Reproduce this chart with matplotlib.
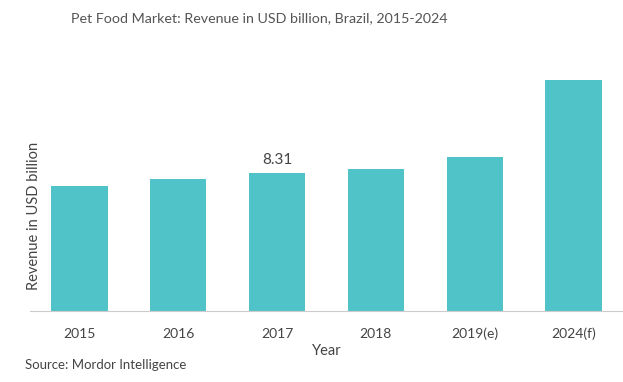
import matplotlib
matplotlib.use("Agg")
import matplotlib.pyplot as plt

years = ["2015", "2016", "2017", "2018", "2019(e)", "2024(f)"]
revenue = [7.53, 7.95, 8.31, 8.55, 9.27, 13.91]
labelled = "2017"  # only this bar carries a value label

plt.rcParams['font.family'] = ['Lato', 'DejaVu Sans']

fig = plt.figure(figsize=(6.23, 3.82), dpi=100)
ax = fig.add_axes([30 / 623, 71 / 382, 593 / 623, 246 / 382])

x = range(len(years))
ax.bar(x, revenue, width=0.57, color='#4fc3c8')
ax.set_xlim(-0.5, 5.5)
ax.set_ylim(0, 14.8)

for i, (yr, v) in enumerate(zip(years, revenue)):
    if yr == labelled:
        ax.text(i, v + 0.35, f"{v:.2f}", ha='center', va='bottom',
                fontsize=11, color='#444444')

ax.set_xticks(list(x))
ax.set_xticklabels(years, fontsize=10, color='#444444')
ax.tick_params(axis='x', length=0, pad=12)
ax.set_yticks([])
for side in ['top', 'right', 'left']:
    ax.spines[side].set_visible(False)
ax.spines['bottom'].set_color('#cccccc')

ax.set_xlabel("Year", fontsize=10.5, color='#444444', labelpad=3)
ax.set_ylabel("Revenue in USD billion", fontsize=10.5, color='#444444')
ax.yaxis.set_label_coords(0.018, 0.386)

fig.text(0.416, 0.952, "Pet Food Market: Revenue in USD billion, Brazil, 2015-2024",
         ha='center', va='center', fontsize=10.3, color='#555555')
fig.text(25 / 623, 1 - 365 / 382, "Source: Mordor Intelligence",
         ha='left', va='center', fontsize=9.5, color='#444444')

fig.savefig("out.png", dpi=100)
